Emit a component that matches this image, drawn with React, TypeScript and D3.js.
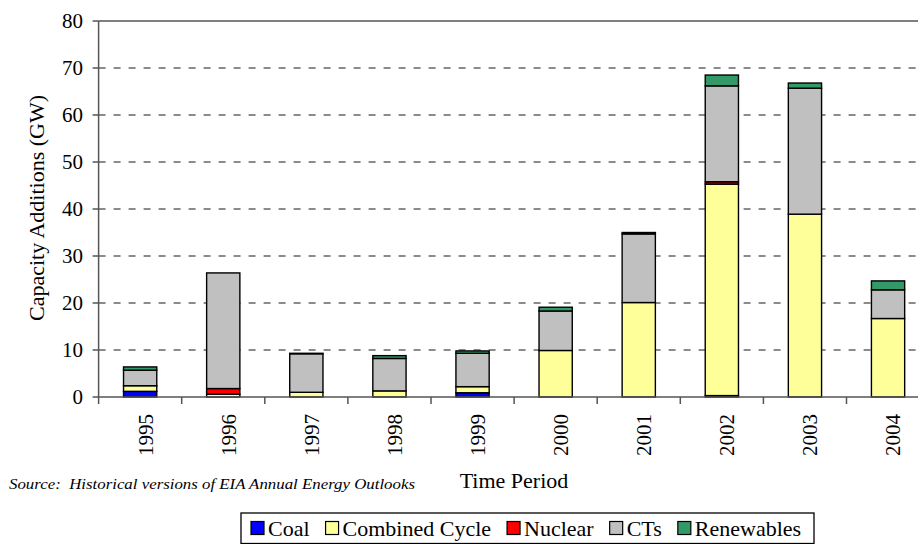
import React, { useEffect, useRef } from 'react';
import * as d3 from 'd3';

const years = ['1995', '1996', '1997', '1998', '1999', '2000', '2001', '2002', '2003', '2004'];
const coal = [1.2, 0, 0, 0, 0.9, 0, 0, 0.3, 0, 0];
const combinedCycle = [1.2, 0.6, 1.0, 1.3, 1.3, 9.9, 20.1, 45.0, 38.9, 16.7];
const nuclear = [0, 1.2, 0, 0, 0, 0, 0, 0.5, 0, 0];
const cts = [3.3, 24.6, 8.2, 6.9, 7.1, 8.4, 14.6, 20.4, 26.8, 6.1];
const renewables = [0.7, 0, 0.1, 0.6, 0.5, 0.8, 0.3, 2.3, 1.1, 1.9];
const yTicks = [0, 10, 20, 30, 40, 50, 60, 70, 80];

const seriesNames = ['Coal', 'Combined Cycle', 'Nuclear', 'CTs', 'Renewables'];
const seriesColors = ['#0000FF', '#FFFF99', '#FF0000', '#C0C0C0', '#339966'];

const W = 918;
const H = 544;
const FONT = '"Liberation Serif", "Times New Roman", serif';

export default function App() {
  const ref = useRef<SVGSVGElement | null>(null);

  useEffect(() => {
    const svg = d3.select(ref.current);
    svg.selectAll('*').remove();

    const x0 = 98.6;
    const x1 = 929.6;
    const yBottom = 397;
    const yTop = 21;

    const x = d3.scaleBand<string>().domain(years).range([x0, x1]).paddingInner(0.6).paddingOuter(0.3);
    const y = d3.scaleLinear().domain([0, 80]).range([yBottom, yTop]);

    const rows = years.map((yr, i) => ({
      year: yr,
      Coal: coal[i],
      'Combined Cycle': combinedCycle[i],
      Nuclear: nuclear[i],
      CTs: cts[i],
      Renewables: renewables[i],
    }));
    const stack = d3.stack<any>().keys(seriesNames);
    const stacked = stack(rows);

    // gridlines
    const grid = svg.append('g');
    yTicks.filter((t) => t > 0).forEach((t) => {
      grid
        .append('line')
        .attr('x1', x0)
        .attr('x2', x1)
        .attr('y1', y(t))
        .attr('y2', y(t))
        .attr('stroke', t === 80 ? '#555' : '#666')
        .attr('stroke-width', 1.3)
        .attr('stroke-dasharray', t === 80 ? null : '7,8');
    });

    // bars
    const bars = svg.append('g');
    stacked.forEach((s, si) => {
      bars
        .append('g')
        .selectAll('rect')
        .data(s.filter((d) => d[1] - d[0] > 0))
        .join('rect')
        .attr('x', (d: any) => x(d.data.year) as number)
        .attr('width', x.bandwidth())
        .attr('y', (d: any) => y(d[1]))
        .attr('height', (d: any) => y(d[0]) - y(d[1]))
        .attr('fill', seriesColors[si])
        .attr('stroke', '#000')
        .attr('stroke-width', 1.4);
    });

    // axes
    const axes = svg.append('g').attr('stroke', '#555').attr('stroke-width', 1.5);
    axes.append('line').attr('x1', x0).attr('x2', x0).attr('y1', yTop).attr('y2', yBottom);
    axes.append('line').attr('x1', x0).attr('x2', x1).attr('y1', yBottom).attr('y2', yBottom);
    yTicks.forEach((t) => {
      axes.append('line').attr('x1', x0 - 6).attr('x2', x0).attr('y1', y(t)).attr('y2', y(t));
    });
    const step = x.step();
    for (let k = 0; k <= years.length; k++) {
      const xx = x0 + k * step;
      axes.append('line').attr('x1', xx).attr('x2', xx).attr('y1', yBottom).attr('y2', yBottom + 7);
    }

    // y tick labels
    svg
      .append('g')
      .selectAll('text')
      .data(yTicks)
      .join('text')
      .attr('x', 83)
      .attr('y', (d) => y(d))
      .attr('dy', '0.35em')
      .attr('text-anchor', 'end')
      .attr('font-family', FONT)
      .attr('font-size', 21)
      .attr('fill', '#000')
      .text((d) => String(d));

    // x tick labels (rotated)
    svg
      .append('g')
      .selectAll('text')
      .data(years)
      .join('text')
      .attr('transform', (d) => `translate(${(x(d) as number) + x.bandwidth() / 2 + 5},414) rotate(-90)`)
      .attr('dy', '0.35em')
      .attr('text-anchor', 'end')
      .attr('font-family', FONT)
      .attr('font-size', 21)
      .attr('fill', '#000')
      .text((d) => d);

    // axis titles
    svg
      .append('text')
      .attr('transform', 'translate(44,208) rotate(-90)')
      .attr('text-anchor', 'middle')
      .attr('font-family', FONT)
      .attr('font-size', 22)
      .attr('fill', '#000')
      .text('Capacity Additions (GW)');

    svg
      .append('text')
      .attr('x', 514)
      .attr('y', 488)
      .attr('text-anchor', 'middle')
      .attr('font-family', FONT)
      .attr('font-size', 22)
      .attr('fill', '#000')
      .text('Time Period');

    svg
      .append('text')
      .attr('x', 9)
      .attr('y', 489)
      .attr('font-family', FONT)
      .attr('font-style', 'italic')
      .attr('font-size', 15)
      .attr('textLength', 406)
      .attr('lengthAdjust', 'spacingAndGlyphs')
      .attr('fill', '#000')
      .attr('xml:space', 'preserve')
      .style('white-space', 'pre')
      .text('Source:  Historical versions of EIA Annual Energy Outlooks');

    // legend
    const lg = svg.append('g');
    lg.append('rect')
      .attr('x', 241)
      .attr('y', 513)
      .attr('width', 573)
      .attr('height', 30.5)
      .attr('fill', '#fff')
      .attr('stroke', '#000')
      .attr('stroke-width', 1.3);
    let lx = 251;
    seriesNames.forEach((name, i) => {
      lg.append('rect')
        .attr('x', lx)
        .attr('y', 521.5)
        .attr('width', 13)
        .attr('height', 13)
        .attr('fill', seriesColors[i])
        .attr('stroke', '#000')
        .attr('stroke-width', 1.2);
      const t = lg
        .append('text')
        .attr('x', lx + 17)
        .attr('y', 536)
        .attr('font-family', FONT)
        .attr('font-size', 22)
        .attr('fill', '#000')
        .text(name);
      const w = (t.node() as SVGTextElement).getComputedTextLength();
      lx = lx + 17 + w + 16;
    });
  }, []);

  return (
    <svg
      ref={ref}
      width={W}
      height={H}
      style={{ position: 'absolute', left: 0, top: 0, background: '#fff' }}
    />
  );
}
